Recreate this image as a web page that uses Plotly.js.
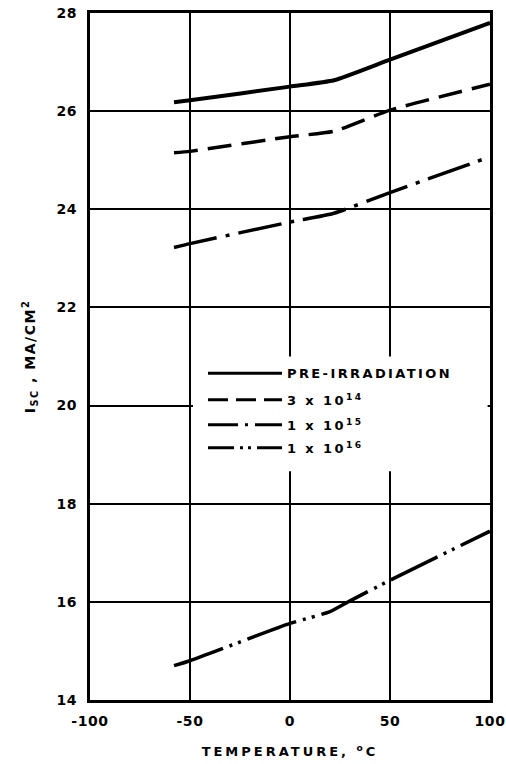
<!DOCTYPE html>
<html><head><meta charset="utf-8">
<script src="https://cdn.plot.ly/plotly-3.0.1.min.js"></script>
<style>
html,body{margin:0;padding:0;background:#fff;}
#chart{width:506px;height:764px;}
.xtick text,.ytick text{letter-spacing:0.6px;}
.g-xtitle text{letter-spacing:3px;}
.g-ytitle text{letter-spacing:1.5px;}
.annotation-text{letter-spacing:2.4px;}
</style>
</head><body><div id="chart"></div>
<script>
// ---- data ----
const seriesNames = ["PRE-IRRADIATION", "3 x 10<sup>14</sup>", "1 x 10<sup>15</sup>", "1 x 10<sup>16</sup>"];
const tempPre  = [-58, -50, 0, 22, 50, 100];
const iscPre   = [26.18, 26.22, 26.50, 26.63, 27.05, 27.80];
const temp3e14 = [-58, -50, 0, 22, 50, 100];
const isc3e14  = [25.15, 25.18, 25.48, 25.59, 26.02, 26.55];
const temp1e15 = [-58, -50, 0, 22, 50, 100];
const isc1e15  = [23.22, 23.30, 23.74, 23.92, 24.34, 25.07];
const temp1e16 = [-58, -50, 0, 20, 30, 50, 100];
const isc1e16  = [14.70, 14.80, 15.56, 15.80, 16.02, 16.44, 17.44];
const xTickVals = [-100, -50, 0, 50, 100];
const xTickText = ["-100", "-50", "0", "50", "100"];
const yTickVals = [14, 16, 18, 20, 22, 24, 26, 28];
const yTickText = ["14", "16", "18", "20", "22", "24", "26", "28"];

// ---- styles ----
const dashes = ["solid", "24px,10px", "44px,9px,4px,9px", "52px,7px,3px,6px,3px,7px"];
const legendDashes = ["solid", "20px,8px", "30px,7px,3px,7px", "26px,6px,3px,5px,3px,6px"];
const widths = [4, 3.5, 3.5, 3.5];
const xs = [tempPre, temp3e14, temp1e15, temp1e16];
const ys = [iscPre, isc3e14, isc1e15, isc1e16];

const traces = xs.map((x, i) => ({
  x: x, y: ys[i], type: "scatter", mode: "lines", name: seriesNames[i],
  line: {color: "#000", width: widths[i], dash: dashes[i], shape: "spline", smoothing: 0.5},
  showlegend: false, hoverinfo: "skip"
}));

const font = {family: "DejaVu Sans, sans-serif", color: "#000", weight: 700};

// manual legend (long line samples as in the original)
const shapes = [{type: "rect", xref: "x", yref: "y", x0: -48.5, x1: 98.8, y0: 18.66, y1: 21.0,
  fillcolor: "#fff", line: {width: 0}, layer: "above"}];
const annotations = [];
const rowY = [20.66, 20.12, 19.61, 19.14];
seriesNames.forEach((n, i) => {
  shapes.push({type: "line", xref: "x", yref: "y", x0: -41, x1: -4, y0: rowY[i], y1: rowY[i],
    line: {color: "#000", width: 3, dash: legendDashes[i]}, layer: "above"});
  annotations.push({xref: "x", yref: "y", x: -2.5, y: rowY[i], text: n, showarrow: false,
    xanchor: "left", yanchor: "middle", font: Object.assign({}, font, {size: 13})});
});

const axisCommon = {
  showline: true, mirror: true, linecolor: "#000", linewidth: 3,
  showgrid: true, gridcolor: "#000", gridwidth: 2, zeroline: false,
  ticks: "", tickfont: Object.assign({}, font, {size: 14}), fixedrange: true
};

const layout = {
  width: 506, height: 764,
  margin: {l: 90, r: 16, t: 13, b: 64},
  paper_bgcolor: "#fff", plot_bgcolor: "#fff",
  showlegend: false,
  xaxis: Object.assign({}, axisCommon, {
    range: [-100, 100], tickvals: xTickVals, ticktext: xTickText, ticklabelstandoff: 6,
    title: {text: "TEMPERATURE, <sup>o</sup>C", font: Object.assign({}, font, {size: 13}), standoff: 20}
  }),
  yaxis: Object.assign({}, axisCommon, {
    range: [14, 28], tickvals: yTickVals, ticktext: yTickText, ticklabelstandoff: 7,
    title: {text: "I<sub>SC</sub> , MA/CM<sup>2</sup>", font: Object.assign({}, font, {size: 14}), standoff: 18}
  }),
  shapes: shapes,
  annotations: annotations
};

Plotly.newPlot("chart", traces, layout, {displayModeBar: false, staticPlot: true});
</script>
</body></html>
